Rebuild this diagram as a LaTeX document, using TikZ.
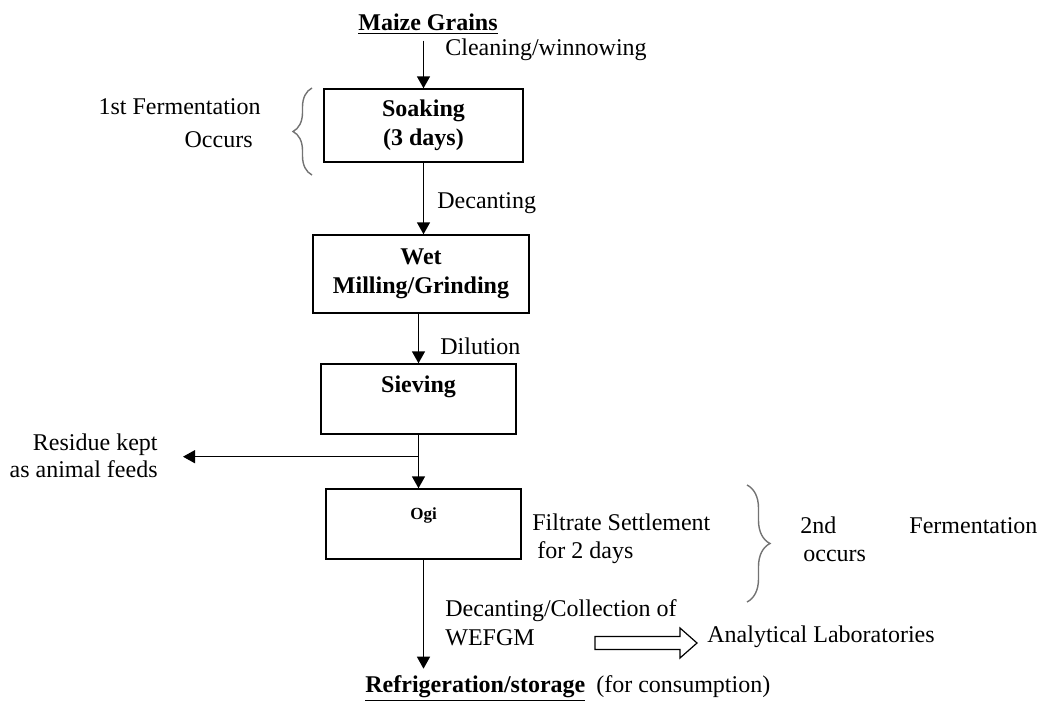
\documentclass[tikz,border=0pt]{standalone}
\usepackage{fontspec}
\setmainfont{Liberation Serif}
\usetikzlibrary{arrows.meta,decorations.pathreplacing}

\begin{document}
\begin{tikzpicture}[
  x=0.5pt, y=-0.5pt,
  every node/.style={font=\fontsize{12}{14}\selectfont, inner sep=0pt},
  process/.style={draw, line width=0.7pt, align=center,
                  font=\fontsize{12}{14.5}\selectfont\bfseries},
  note/.style={align=left},
  arrow/.style={-{Triangle[length=6pt,width=6.5pt]}, line width=0.7pt},
  hollow/.style={draw, line width=0.6pt},
  fbrace/.style={decorate, draw=black!55, line width=0.7pt}
]
\useasboundingbox (0,0) rectangle (1040,702);

\node[anchor=base, inner ysep=3pt] (maize) at (428,30) {\underline{\textbf{Maize Grains}}};
\node[process, minimum width=99.5pt, minimum height=36.5pt] (soak) at (423.5,125.5) {Soaking\\(3 days)};
\node[process, minimum width=108pt, minimum height=39pt] (wet) at (421,274) {Wet\\Milling/Grinding};
\node[process, minimum width=97.5pt, minimum height=35pt] (sieve) at (418.5,399) {Sieving\\\mbox{}};
\node[process, minimum width=97.5pt, minimum height=35pt,
      font=\fontsize{8.5}{10}\selectfont\bfseries] (ogi) at (423.5,524) {Ogi\\\mbox{}};
\node[anchor=base west, inner ysep=3pt] (refr) at (365,692)
  {\underline{\textbf{Refrigeration/storage}}\hspace{5.5pt}(for consumption)};

\node[note, anchor=west] (clean) at (445,50) {Cleaning/winnowing};
\node[note, anchor=west] (decant) at (437,203) {Decanting};
\node[note, anchor=west] (dilution) at (440,346) {Dilution};
\node[align=right, anchor=east, font=\fontsize{12}{16.5}\selectfont] (ferm1) at (261,123.5)
  {1st Fermentation\\Occurs\rule{4pt}{0pt}};
\node[align=right, anchor=east, font=\fontsize{12}{13.5}\selectfont] (residue) at (158,455.5)
  {Residue kept\\as animal feeds};
\node[note, anchor=west] (filtrate) at (532,539) {Filtrate Settlement\\\hspace*{2.5pt}for 2 days};
\node[note, anchor=west, text width=118.5pt] (ferm2) at (800,539)
  {2nd\hfill Fermentation\\\hspace*{1.5pt}occurs};
\node[note, anchor=west, font=\fontsize{12}{14.5}\selectfont] (collect) at (445,622.5)
  {Decanting/Collection of\\WEFGM};
\node[note, anchor=west] (lab) at (707,637) {Analytical Laboratories};

\draw[arrow] (maize.south -| soak.north) -- (soak.north);
\draw[arrow] (soak.south) -- (soak.south |- wet.north);
\draw[arrow] (sieve.north |- wet.south) -- (sieve.north);
\coordinate (split) at ([yshift=-11pt]sieve.south);
\draw[arrow] (sieve.south) -- (sieve.south |- ogi.north);
\draw[arrow] (split) -- ([xshift=12.5pt]residue.east |- split);
\draw[arrow] (ogi.south) -- (ogi.south |- refr.north);

\coordinate (hs) at (595,643);
\coordinate (he) at (697,643);
\draw[hollow] (hs) ++(0,-6.5) -- ++(85,0) -- ++(0,-8.5) -- (he) -- ++(-17,15)
  -- ++(0,-8.5) -- ++(-85,0) -- cycle;

\draw[fbrace, decoration={brace, amplitude=9.5pt}] (312,175) -- (312,88);
\draw[fbrace, decoration={brace, amplitude=11.5pt}] (747,485) -- (747,602);
\end{tikzpicture}
\end{document}
